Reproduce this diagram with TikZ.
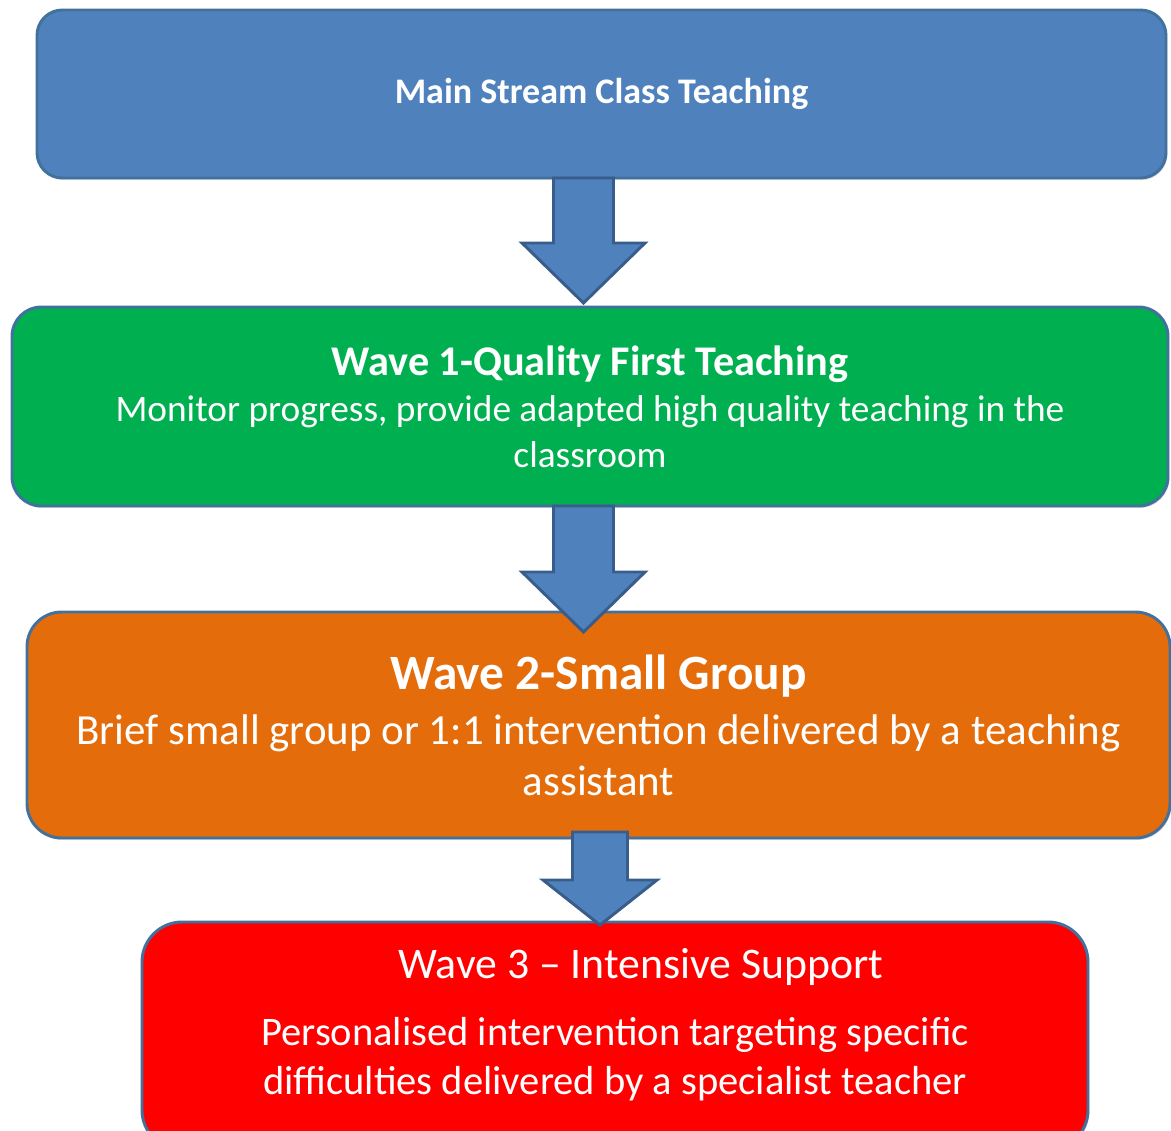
\documentclass[tikz,border=0pt]{standalone}
\usepackage{fontspec}
\setmainfont{Carlito}
\usepackage{tikz}
\usetikzlibrary{calc,shadows}

\definecolor{boxblue}{HTML}{4F81BD}
\definecolor{edgeblue}{HTML}{41719C}
\definecolor{arrowedge}{HTML}{385D8A}
\definecolor{wavegreen}{HTML}{00B050}
\definecolor{waveorange}{HTML}{E46C0A}
\definecolor{wavered}{HTML}{FF0000}

% block arrow: #1 top, #2 tip, #3 half shaft, #4 half head, #5 head length
\newcommand{\bigarrow}[5]{%
	\draw[blockarrow] ($(#1)+(-#3,0)$) -- ($(#2)+(-#3,-#5)$) -- ($(#2)+(-#4,-#5)$) -- (#2)
		-- ($(#2)+(#4,-#5)$) -- ($(#2)+(#3,-#5)$) -- ($(#1)+(#3,0)$) -- cycle;}

\begin{document}
\begin{tikzpicture}[x=0.75pt,y=-0.75pt,
	wavebox/.style={draw=edgeblue, line width=2.2pt, rounded corners=#1, text=white, align=center,
		inner sep=0pt, outer sep=0pt, drop shadow={opacity=0.25, shadow xshift=1pt, shadow yshift=-1.5pt}},
	blockarrow/.style={fill=boxblue, draw=arrowedge, line width=2.2pt, line join=miter}]
	\useasboundingbox (0,0) rectangle (1171,1131);
	%\draw[step=100,color=gray] (0,0) grid (1171,1131);
			\node[wavebox=19pt, fill=boxblue, minimum width=846.75pt, minimum height=126pt,
				font=\bfseries\fontsize{27}{32}\selectfont] (main) at (601.5,94) {Main Stream Class Teaching};
			\node[wavebox=22pt, fill=wavegreen, minimum width=867pt, minimum height=149.25pt,
				font=\fontsize{28}{34.5}\selectfont] (wave1) at (590,406.5)
				{{\bfseries\fontsize{31.7}{34.5}\selectfont Wave 1-Quality First Teaching}\\
				Monitor progress, provide adapted high quality teaching in the\\ classroom};
			\node[wavebox=26pt, fill=waveorange, minimum width=857.25pt, minimum height=169.5pt,
				font=\fontsize{32.2}{38.25}\selectfont] (wave2) at (598.5,725)
				{{\bfseries\fontsize{37}{38.25}\selectfont Wave 2-Small Group}\\[3pt]
				Brief small group or 1:1 intervention delivered by a teaching\\ assistant};
			\node[wavebox=30pt, fill=wavered, minimum width=709.5pt, minimum height=171pt,
				font=\fontsize{30.4}{36.75}\selectfont] (wave3) at (615,1036)
				{\hspace*{39pt}{\fontsize{32.8}{36.75}\selectfont Wave 3 -- Intensive Support}\\[14pt]
				Personalised intervention targeting specific\\ difficulties delivered by a specialist teacher\\[-15pt]\mbox{}};
			\path (583.5,0) coordinate (x1) (600,0) coordinate (x3);
			\coordinate (tip1) at ($(wave1.north -| x1)+(0,-4)$);
			\coordinate (tip2) at ($(wave2.north -| x1)+(0,20)$);
			\coordinate (top3) at ($(wave2.south -| x3)+(0,-6)$);
			\coordinate (tip3) at ($(wave3.north -| x3)+(0,3)$);
			\bigarrow{main.south -| x1}{tip1}{30}{61.5}{60}
			\bigarrow{wave1.south -| x1}{tip2}{30}{61.5}{60}
			\bigarrow{top3}{tip3}{27.5}{57}{45}
\end{tikzpicture}
\end{document}
